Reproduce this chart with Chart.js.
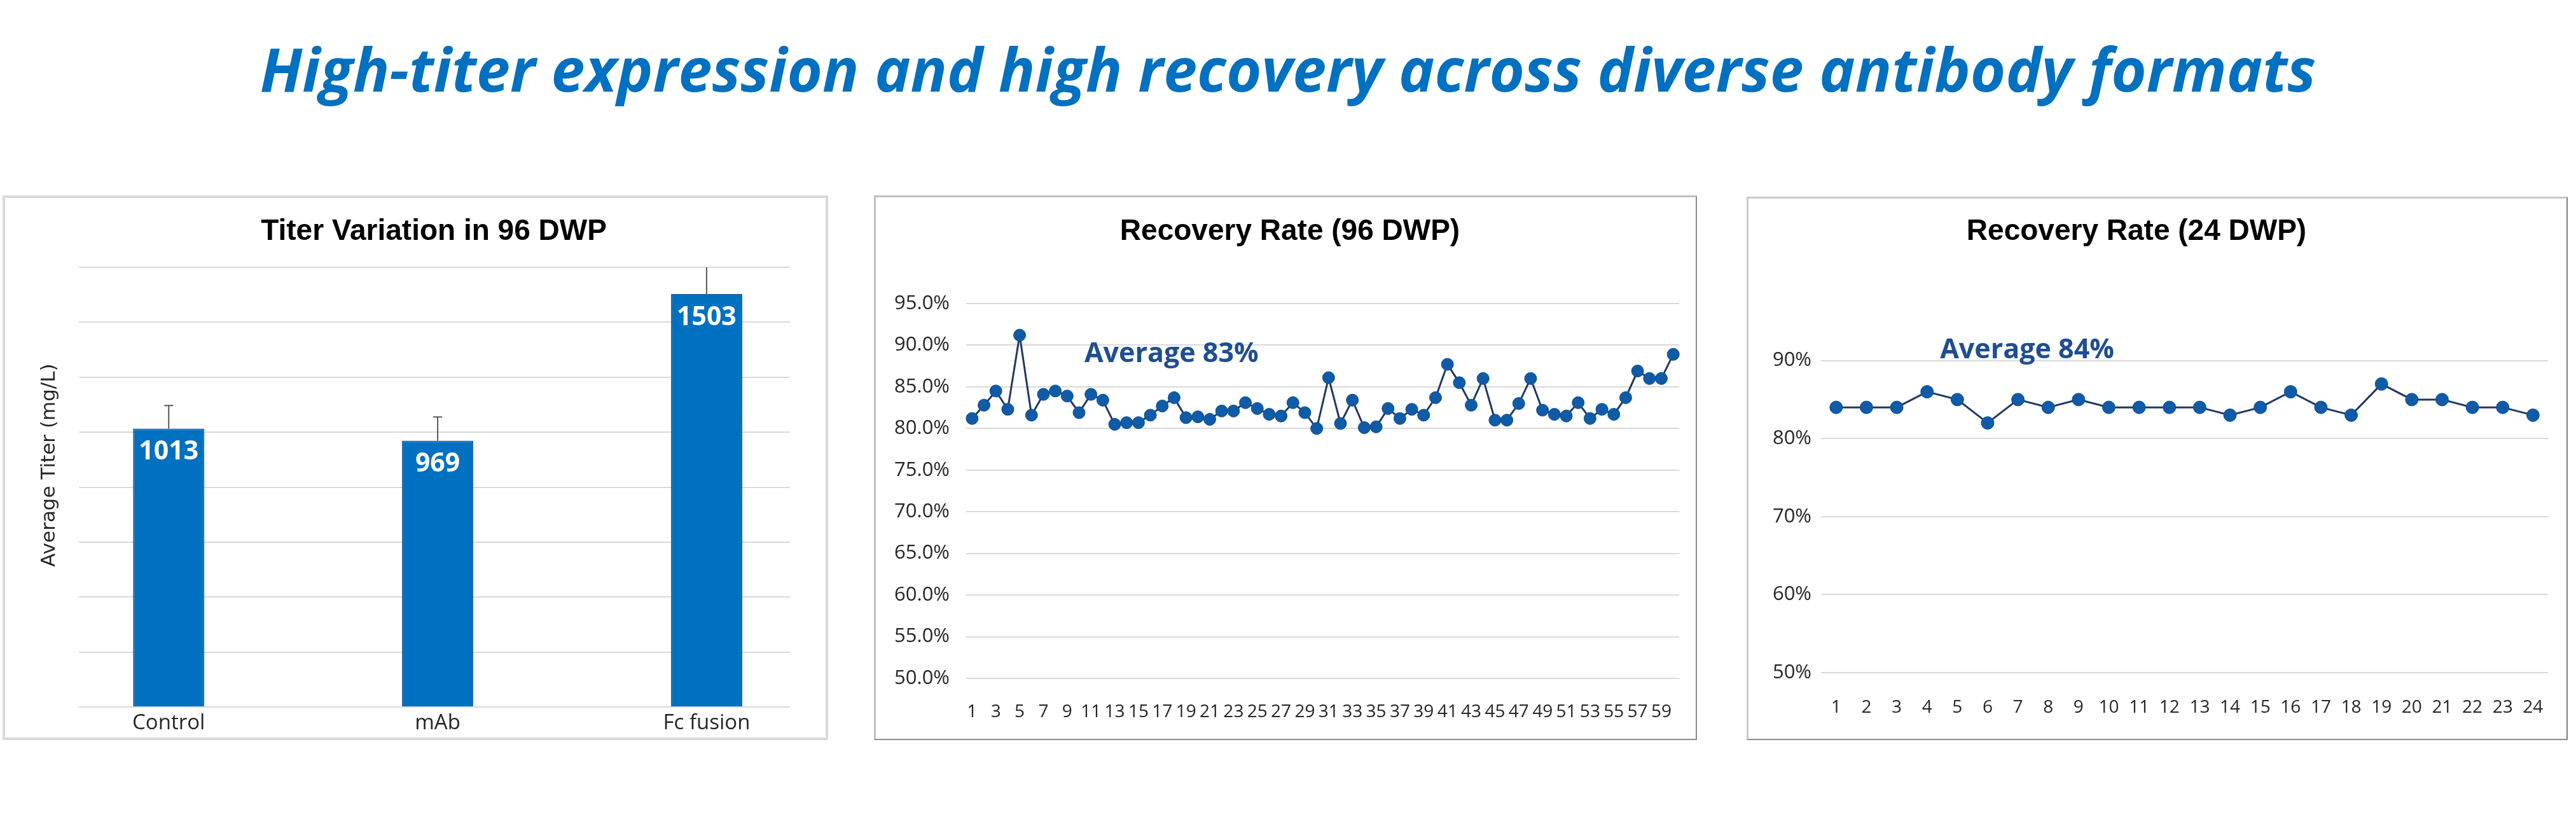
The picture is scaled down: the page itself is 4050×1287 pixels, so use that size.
<!DOCTYPE html>
<html>
<head>
<meta charset="utf-8">
<title>High-titer expression and high recovery across diverse antibody formats</title>
<script src="https://cdn.jsdelivr.net/npm/chart.js@4.4.1/dist/chart.umd.min.js"></script>
<style>
  html, body { margin: 0; padding: 0; background: #fff; }
  body { width: 4050px; height: 1287px; position: relative; overflow: hidden; }
  #headline {
    position: absolute; left: 0; top: 60px; width: 4050px;
    text-align: center; white-space: nowrap;
    font: italic 700 95px/95px "Open Sans", sans-serif; color: #0070C0;
  }
  .frame { position: absolute; box-sizing: border-box; }
  .plot { position: absolute; z-index: 2; }
  #titerFrame { left: 4px; top: 307px; width: 1298px; height: 856px; border: 4px solid #D9D9D9; }
  #rec96Frame { left: 1374px; top: 307px; width: 1294px; height: 856px; border: 3px solid #BFBFBF; border-right: 2px solid #8C8C8C; border-bottom: 2px solid #8C8C8C; }
  #rec24Frame { left: 2746px; top: 309px; width: 1291px; height: 854px; border: 3px solid #C8C8C8; border-right: 2px solid #7F7F7F; border-bottom: 2px solid #8C8C8C; }
  #titerChart { left: 4px; top: 307px; }
  #rec96Chart { left: 1374px; top: 307px; }
  #rec24Chart { left: 2746px; top: 309px; }
</style>
</head>
<body>
<div id="headline">High-titer expression and high recovery across diverse antibody formats</div>

<div class="frame" id="titerFrame"></div>
<div class="frame" id="rec96Frame"></div>
<div class="frame" id="rec24Frame"></div>

<canvas class="plot" id="titerChart" width="1298" height="856"></canvas>
<canvas class="plot" id="rec96Chart" width="1294" height="856"></canvas>
<canvas class="plot" id="rec24Chart" width="1291" height="854"></canvas>

<script>
// titer in 96 deep-well plates (mg/L)
var titerCategories = ['Control', 'mAb', 'Fc fusion'];
var titerValues = [1013, 969, 1503];
var titerErrors = [84, 86, 110];
var titerTicks = [0, 200, 400, 600, 800, 1000, 1200, 1400, 1600];

// recovery rate, 96 DWP (%)
var wells96 = [
  '1', '2', '3', '4', '5', '6', '7', '8', '9', '10',
  '11', '12', '13', '14', '15', '16', '17', '18', '19', '20',
  '21', '22', '23', '24', '25', '26', '27', '28', '29', '30',
  '31', '32', '33', '34', '35', '36', '37', '38', '39', '40',
  '41', '42', '43', '44', '45', '46', '47', '48', '49', '50',
  '51', '52', '53', '54', '55', '56', '57', '58', '59', '60'
];
var recovery96 = [
  81.2, 82.8, 84.5, 82.3, 91.2, 81.6, 84.1, 84.5, 83.9, 81.9,
  84.1, 83.4, 80.5, 80.7, 80.7, 81.6, 82.7, 83.7, 81.3, 81.4,
  81.1, 82.1, 82.1, 83.1, 82.4, 81.7, 81.5, 83.1, 81.9, 80.0,
  86.1, 80.6, 83.4, 80.1, 80.2, 82.4, 81.2, 82.3, 81.6, 83.7,
  87.7, 85.5, 82.8, 86.0, 81.0, 81.0, 83.0, 86.0, 82.2, 81.7,
  81.5, 83.1, 81.2, 82.3, 81.7, 83.7, 86.9, 86.0, 86.0, 88.9
];
var recovery96Ticks = [50, 55, 60, 65, 70, 75, 80, 85, 90, 95];

// recovery rate, 24 DWP (%)
var wells24 = [
  '1', '2', '3', '4', '5', '6', '7', '8', '9', '10', '11', '12',
  '13', '14', '15', '16', '17', '18', '19', '20', '21', '22', '23', '24'
];
var recovery24 = [
  84, 84, 84, 86, 85, 82, 85, 84, 85, 84, 84, 84,
  84, 83, 84, 86, 84, 83, 87, 85, 85, 84, 84, 83
];
var recovery24Ticks = [50, 60, 70, 80, 90];

var BLUE = '#0070C0';
var GRID = '#D9D9D9';
var INK = '#262626';
var HEADING_FONT = 'bold 46px "Liberation Sans Narrow", "Liberation Sans", sans-serif';

Chart.defaults.animation = false;
Chart.defaults.responsive = false;
Chart.defaults.plugins.legend.display = false;
Chart.defaults.plugins.tooltip.enabled = false;

function useTicks(list) {
  return function (scale) {
    scale.ticks = list.map(function (v) { return { value: v }; });
  };
}

function fixWidth(w) {
  return function (scale) { scale.width = w; };
}

function fixHeight(h) {
  return function (scale) { scale.height = h; };
}

// free text in the panel: chart heading, rotated axis caption
var panelText = {
  id: 'panelText',
  afterDraw: function (chart, args, opts) {
    var ctx = chart.ctx;
    (opts.items || []).forEach(function (item) {
      ctx.save();
      ctx.translate(item.x, item.y);
      if (item.rotate) ctx.rotate(item.rotate);
      ctx.fillStyle = item.color;
      ctx.font = item.font;
      ctx.textAlign = 'center';
      ctx.textBaseline = 'middle';
      ctx.fillText(item.text, 0, 0);
      ctx.restore();
    });
  }
};

// plus-direction error bars, clipped to the plot area like the original
var errorBars = {
  id: 'errorBars',
  afterDatasetsDraw: function (chart, args, opts) {
    var ctx = chart.ctx;
    var area = chart.chartArea;
    var yScale = chart.scales.y;
    var meta = chart.getDatasetMeta(0);
    ctx.save();
    ctx.beginPath();
    ctx.rect(area.left, area.top, area.right - area.left, area.bottom - area.top);
    ctx.clip();
    ctx.strokeStyle = opts.color;
    ctx.lineWidth = opts.width;
    meta.data.forEach(function (bar, i) {
      var top = yScale.getPixelForValue(titerValues[i] + titerErrors[i]);
      ctx.beginPath();
      ctx.moveTo(bar.x, bar.y);
      ctx.lineTo(bar.x, top);
      ctx.moveTo(bar.x - opts.cap, top);
      ctx.lineTo(bar.x + opts.cap, top);
      ctx.stroke();
    });
    ctx.restore();
  }
};

// value printed inside the top of each bar
var barValues = {
  id: 'barValues',
  afterDatasetsDraw: function (chart, args, opts) {
    var ctx = chart.ctx;
    var meta = chart.getDatasetMeta(0);
    ctx.save();
    ctx.fillStyle = opts.color;
    ctx.font = opts.font;
    ctx.textAlign = 'center';
    ctx.textBaseline = 'middle';
    meta.data.forEach(function (bar, i) {
      ctx.fillText(String(titerValues[i]), bar.x, bar.y + opts.offset);
    });
    ctx.restore();
  }
};

// "Average xx%" note placed in data coordinates
var averageNote = {
  id: 'averageNote',
  afterDatasetsDraw: function (chart, args, opts) {
    if (!opts.text) return;
    var ctx = chart.ctx;
    ctx.save();
    ctx.fillStyle = opts.color;
    ctx.font = opts.font;
    ctx.textAlign = 'left';
    ctx.textBaseline = 'middle';
    ctx.fillText(opts.text, chart.scales.x.getPixelForValue(opts.at), chart.scales.y.getPixelForValue(opts.value));
    ctx.restore();
  }
};

new Chart(document.getElementById('titerChart'), {
  type: 'bar',
  data: {
    datasets: [{
      data: titerValues.map(function (v, i) { return { x: i, y: v }; }),
      backgroundColor: BLUE,
      borderColor: '#1F63A3',
      borderWidth: 2,
      barPercentage: 0.265,
      categoryPercentage: 1
    }]
  },
  options: {
    layout: { padding: { left: 54, right: 60, top: 113, bottom: 0 } },
    scales: {
      x: {
        type: 'linear',
        offset: false,
        min: -0.334,
        max: 2.31,
        afterBuildTicks: useTicks([0, 1, 2]),
        afterFit: fixHeight(52),
        grid: { display: false, drawTicks: false },
        border: { display: false },
        ticks: {
          padding: 6,
          color: INK,
          font: { family: '"Open Sans", sans-serif', size: 33 },
          callback: function (v) { return titerCategories[v]; }
        }
      },
      y: {
        min: titerTicks[0],
        max: titerTicks[titerTicks.length - 1],
        afterBuildTicks: useTicks(titerTicks),
        afterFit: fixWidth(66),
        grid: { color: GRID, lineWidth: 2, drawTicks: false },
        border: { display: false },
        ticks: { display: false }
      }
    },
    plugins: {
      errorBars: { color: '#595959', width: 2, cap: 7 },
      barValues: { color: '#fff', font: 'bold 41px "Open Sans", sans-serif', offset: 37 },
      panelText: {
        items: [
          { text: 'Titer Variation in 96 DWP', x: 678, y: 57, font: HEADING_FONT, color: '#000' },
          { text: 'Average Titer (mg/L)', x: 74, y: 424, rotate: -Math.PI / 2, font: '31px "DejaVu Sans", sans-serif', color: INK }
        ]
      }
    }
  },
  plugins: [errorBars, barValues, panelText]
});

function recoveryChart(canvasId, labels, values, ticks, yMax, opt) {
  return new Chart(document.getElementById(canvasId), {
    type: 'line',
    data: {
      labels: labels,
      datasets: [{
        data: values,
        borderColor: '#1F3864',
        borderWidth: 3,
        tension: 0,
        pointRadius: opt.pointRadius,
        pointBackgroundColor: '#0F5BA8',
        pointBorderColor: '#0B4D92',
        pointBorderWidth: 1,
        clip: false
      }]
    },
    options: {
      layout: { padding: { left: 0, right: opt.right, top: opt.top, bottom: 0 } },
      scales: {
        x: {
          offset: true,
          afterFit: fixHeight(opt.xHeight),
          grid: { display: false, drawTicks: false },
          border: { display: false },
          ticks: {
            autoSkip: false,
            maxRotation: 0,
            padding: opt.xPad,
            color: INK,
            font: { family: '"Open Sans", sans-serif', size: 28 },
            callback: function (v, i) { return i % opt.every === 0 ? labels[i] : ''; }
          }
        },
        y: {
          min: ticks[0],
          max: yMax,
          afterBuildTicks: useTicks(ticks),
          afterFit: fixWidth(opt.yWidth),
          grid: { color: GRID, lineWidth: 2, drawTicks: false },
          border: { display: false },
          ticks: {
            padding: opt.yPad,
            color: INK,
            font: { family: '"Open Sans", sans-serif', size: 31 },
            callback: function (v) { return v.toFixed(opt.decimals) + '%'; }
          }
        }
      },
      plugins: {
        averageNote: {
          text: opt.note,
          at: opt.noteAt,
          value: opt.noteValue,
          color: '#1F4E90',
          font: 'bold 43px "Open Sans", sans-serif'
        },
        panelText: {
          items: [{ text: opt.title, x: opt.titleX, y: opt.titleY, font: HEADING_FONT, color: '#000' }]
        }
      }
    },
    plugins: [averageNote, panelText]
  });
}

recoveryChart('rec96Chart', wells96, recovery96, recovery96Ticks, 95, {
  title: 'Recovery Rate (96 DWP)', titleX: 654, titleY: 57,
  top: 170, right: 28, yWidth: 145, yPad: 26, xHeight: 97, xPad: 36,
  every: 2, decimals: 1, pointRadius: 9.5,
  note: 'Average 83%', noteAt: 9.45, noteValue: 88.9
});

recoveryChart('rec24Chart', wells24, recovery24, recovery24Ticks, 100, {
  title: 'Recovery Rate (24 DWP)', titleX: 613, titleY: 55,
  top: 135, right: 30, yWidth: 117, yPad: 15, xHeight: 106, xPad: 38,
  every: 1, decimals: 0, pointRadius: 10,
  note: 'Average 84%', noteAt: 3.43, noteValue: 91.3
});
</script>
</body>
</html>
